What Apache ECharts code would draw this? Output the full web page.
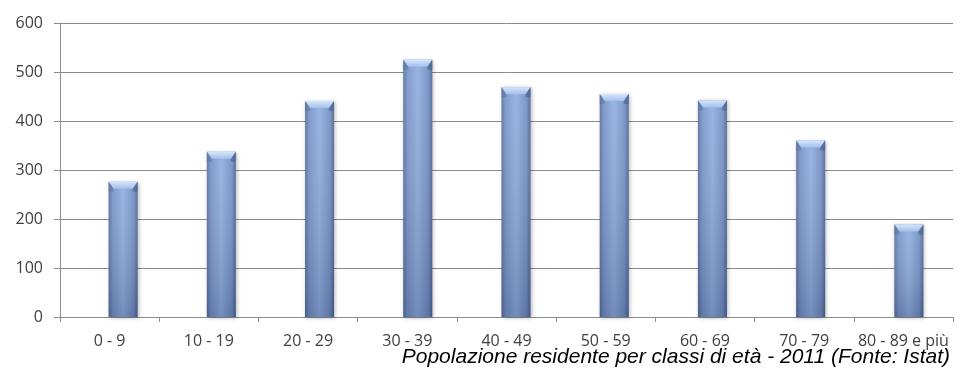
<!DOCTYPE html>
<html>
<head>
<meta charset="utf-8">
<script src="https://cdn.jsdelivr.net/npm/echarts@6/dist/echarts.min.js"></script>
<style>
  html, body { margin: 0; padding: 0; background: #ffffff; }
  #chart { width: 958px; height: 372px; }
</style>
</head>
<body>
<div id="chart"></div>
<script>
// Fasce d'età e popolazione residente (2011)
const categories = ['0 - 9', '10 - 19', '20 - 29', '30 - 39', '40 - 49', '50 - 59', '60 - 69', '70 - 79', '80 - 89 e più'];
const residents = [276, 337, 441, 525, 469, 455, 442, 360, 189];
const yTicks = { min: 0, max: 600, interval: 100 };
const caption = 'Popolazione residente per classi di età - 2011 (Fonte: Istat)';

const chart = echarts.init(document.getElementById('chart'), null, { renderer: 'canvas' });

const BAR_W = 29;
const BEVEL = 7;

// Bevelled column: body with side shading, darker towards the base, light top facet
function renderColumn(params, api) {
  const top = api.coord([api.value(0), api.value(1)]);
  const base = api.coord([api.value(0), 0]);
  const x = top[0] - BAR_W / 2;
  const y = top[1];
  const h = base[1] - top[1];
  return {
    type: 'group',
    children: [
      {
        type: 'rect',
        shape: { x: x, y: y, width: BAR_W, height: h },
        style: {
          fill: new echarts.graphic.LinearGradient(0, 0, 1, 0, [
            { offset: 0, color: '#566f9f' },
            { offset: 0.14, color: '#7893c6' },
            { offset: 0.5, color: '#90aee1' },
            { offset: 0.86, color: '#738fc2' },
            { offset: 1, color: '#4c6493' }
          ]),
          shadowColor: 'rgba(0,0,0,0.28)',
          shadowBlur: 4,
          shadowOffsetX: 1,
          shadowOffsetY: 1
        }
      },
      {
        type: 'rect',
        shape: { x: x, y: y, width: BAR_W, height: h },
        style: {
          fill: new echarts.graphic.LinearGradient(0, 0, 0, 1, [
            { offset: 0, color: 'rgba(255,255,255,0.08)' },
            { offset: 1, color: 'rgba(20,35,70,0.24)' }
          ])
        }
      },
      {
        type: 'polygon',
        shape: {
          points: [[x, y], [x + BAR_W, y], [x + BAR_W - 5, y + BEVEL], [x + 5, y + BEVEL]]
        },
        style: {
          fill: new echarts.graphic.LinearGradient(0, 0, 0, 1, [
            { offset: 0, color: '#d6e6fb' },
            { offset: 1, color: '#a3bfeb' }
          ])
        }
      },
      {
        type: 'polygon',
        shape: { points: [[x, y], [x + 5, y + BEVEL], [x + 5, y + BEVEL + 3], [x, y + BEVEL + 3]] },
        style: { fill: 'rgba(90,115,160,0.5)' }
      },
      {
        type: 'polygon',
        shape: { points: [[x + BAR_W, y], [x + BAR_W - 5, y + BEVEL], [x + BAR_W - 5, y + BEVEL + 3], [x + BAR_W, y + BEVEL + 3]] },
        style: { fill: 'rgba(70,95,140,0.55)' }
      }
    ]
  };
}

chart.setOption({
  backgroundColor: '#ffffff',
  animation: false,
  title: {
    text: caption,
    right: 3,
    top: 342,
    textStyle: {
      fontFamily: 'Liberation Sans, Arial, sans-serif',
      fontStyle: 'italic',
      fontWeight: 'normal',
      fontSize: 21,
      color: '#000000'
    }
  },
  grid: [
    { left: 60, right: 5, top: 23, bottom: 55 },
    // columns sit slightly right of the category centre
    { left: 74, width: 893, top: 23, bottom: 55 }
  ],
  xAxis: [
    {
      gridIndex: 0,
      type: 'category',
      data: categories,
      boundaryGap: true,
      axisLine: { lineStyle: { color: '#8c8c8c', width: 1 } },
      axisTick: { show: true, length: 5, lineStyle: { color: '#8c8c8c' } },
      axisLabel: {
        interval: 0,
        margin: 16,
        fontFamily: 'Open Sans, DejaVu Sans, sans-serif',
        fontSize: 16,
        color: '#404040'
      }
    },
    {
      gridIndex: 1,
      type: 'category',
      data: categories,
      show: false
    }
  ],
  yAxis: [
    {
      gridIndex: 0,
      type: 'value',
      min: yTicks.min,
      max: yTicks.max,
      interval: yTicks.interval,
      axisLine: { show: true, lineStyle: { color: '#8c8c8c' } },
      axisTick: { show: true, length: 6, lineStyle: { color: '#8c8c8c' } },
      splitLine: { lineStyle: { color: '#8a8a8a', width: 1 } },
      axisLabel: {
        margin: 17,
        fontFamily: 'Open Sans, DejaVu Sans, sans-serif',
        fontSize: 16,
        color: '#404040'
      }
    },
    {
      gridIndex: 1,
      type: 'value',
      min: yTicks.min,
      max: yTicks.max,
      interval: yTicks.interval,
      show: false,
      splitLine: { show: false }
    }
  ],
  series: [
    {
      type: 'custom',
      xAxisIndex: 1,
      yAxisIndex: 1,
      data: residents.map((v, i) => [i, v]),
      encode: { x: 0, y: 1 },
      renderItem: renderColumn
    }
  ]
});
</script>
</body>
</html>
